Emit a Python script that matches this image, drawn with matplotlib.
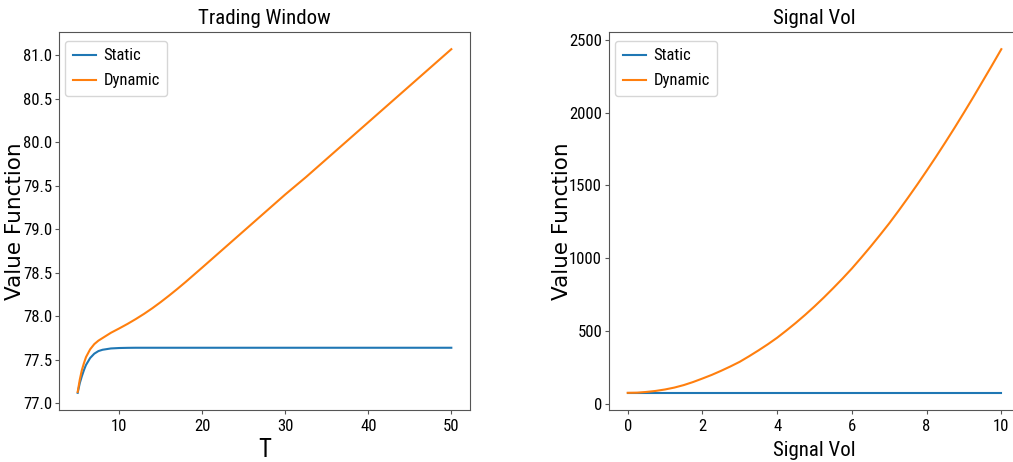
import matplotlib
matplotlib.use("Agg")
import matplotlib.pyplot as plt
from matplotlib import font_manager as fm

# ---------------- data ----------------
T_vals = [5, 5.25, 5.5, 5.75, 6, 6.5, 7, 7.5, 8, 9, 10, 11, 12, 13, 14, 15, 16,
          17, 18, 20, 22.5, 25, 27.5, 30, 32.5, 35, 37.5, 40, 42.5, 45, 47.5, 50]
T_static = [77.12, 77.23, 77.31, 77.38, 77.44, 77.52, 77.57, 77.60, 77.615, 77.63,
            77.635, 77.637, 77.638, 77.638, 77.638, 77.638, 77.638, 77.638, 77.638,
            77.638, 77.638, 77.638, 77.638, 77.638, 77.638, 77.638, 77.638, 77.638,
            77.638, 77.638, 77.638, 77.638]
T_dynamic = [77.13, 77.27, 77.38, 77.46, 77.53, 77.62, 77.68, 77.72, 77.75, 77.81,
             77.86, 77.912, 77.968, 78.028, 78.093, 78.163, 78.237, 78.314, 78.394,
             78.56, 78.77, 78.98, 79.19, 79.40, 79.60, 79.81, 80.02, 80.23, 80.44,
             80.65, 80.86, 81.07]

vol_vals = [0, 0.25, 0.5, 0.75, 1, 1.25, 1.5, 1.75, 2, 2.25, 2.5, 2.75, 3, 3.25,
            3.5, 3.75, 4, 4.25, 4.5, 4.75, 5, 5.25, 5.5, 5.75, 6, 6.25, 6.5, 6.75,
            7, 7.25, 7.5, 7.75, 8, 8.25, 8.5, 8.75, 9, 9.25, 9.5, 9.75, 10]
vol_static = [77.6] * 41
vol_dynamic = [77, 78, 83, 90, 100, 113, 130, 151, 175, 200, 228, 258, 290, 328,
               368, 410, 455, 505, 557, 612, 670, 731, 795, 861, 930, 1004, 1080,
               1159, 1240, 1326, 1415, 1506, 1600, 1696, 1795, 1896, 2000, 2106,
               2215, 2324, 2435]

series_labels = ["Static", "Dynamic"]
titles = ["Trading Window", "Signal Vol"]
xlabels = ["T", "Signal Vol"]
ylabel = "Value Function"

# ---------------- fonts ----------------
def find_narrow():
    prefs = ["LiberationSansNarrow-Regular", "LiberationSansNarrow",
             "RobotoCondensed-Regular", "DejaVuSansCondensed.ttf",
             "NotoSans-Condensed.ttf", "OpenSans_Condensed-Regular"]
    files = fm.findSystemFonts()
    for p in prefs:
        for f in files:
            if p.lower() in f.lower().replace(" ", ""):
                return fm.FontProperties(fname=f)
    for f in files:
        n = f.lower()
        if ("narrow" in n or "condensed" in n) and "bold" not in n and "italic" not in n \
                and "semi" not in n and "extra" not in n and "light" not in n:
            return fm.FontProperties(fname=f)
    return fm.FontProperties(family="DejaVu Sans", stretch="condensed")

narrow = find_narrow()

def nf(size):
    fp = narrow.copy()
    fp.set_size(size)
    return fp

# ---------------- figure ----------------
fig = plt.figure(figsize=(10.13, 4.62), dpi=100)
W, H = 1013, 462
ax_w = 411 / W
ax_h = (410 - 32) / H
ax1 = fig.add_axes([59 / W, 1 - 410 / H, ax_w, ax_h])
ax2 = fig.add_axes([609 / W, 1 - 410 / H, ax_w, ax_h])

colors = ["#1f77b4", "#ff7f0e"]

ax1.plot(T_vals, T_static, color=colors[0], lw=1.5, label=series_labels[0])
ax1.plot(T_vals, T_dynamic, color=colors[1], lw=1.5, label=series_labels[1])
ax2.plot(vol_vals, vol_static, color=colors[0], lw=1.5, label=series_labels[0])
ax2.plot(vol_vals, vol_dynamic, color=colors[1], lw=1.5, label=series_labels[1])

ax1.set_yticks([77.0, 77.5, 78.0, 78.5, 79.0, 79.5, 80.0, 80.5, 81.0])
ax1.set_xticks([10, 20, 30, 40, 50])
ax2.set_yticks([0, 500, 1000, 1500, 2000, 2500])
ax2.set_xticks([0, 2, 4, 6, 8, 10])

xl_sizes = [18, 15]
xl_pads = [3.0, 4.5]
ylab_x = [-0.0827, -0.090]
for ax, t, xl, xs, xp, yx in zip([ax1, ax2], titles, xlabels, xl_sizes, xl_pads, ylab_x):
    ax.set_title(t, fontproperties=nf(15))
    ax.set_xlabel(xl, fontproperties=nf(xs), labelpad=xp)
    ax.set_ylabel(ylabel, fontsize=15.5, family="DejaVu Sans")
    ax.yaxis.set_label_coords(yx, 0.5)
    for lab in ax.get_xticklabels() + ax.get_yticklabels():
        lab.set_fontproperties(nf(12))
    for s in ax.spines.values():
        s.set_color("#555555")
    ax.tick_params(colors="#555555", labelcolor="black")
    ax.tick_params(axis="x", length=3.2, pad=3.5)
    ax.tick_params(axis="y", length=3.0, pad=2.0)
    ax.legend(prop=nf(12), loc="upper left", bbox_to_anchor=(6 / 411, 1 - 9 / 378),
              borderaxespad=0, handlelength=1.4, handletextpad=0.45,
              borderpad=0.45, labelspacing=0.6)

fig.savefig("out.png", dpi=100)
